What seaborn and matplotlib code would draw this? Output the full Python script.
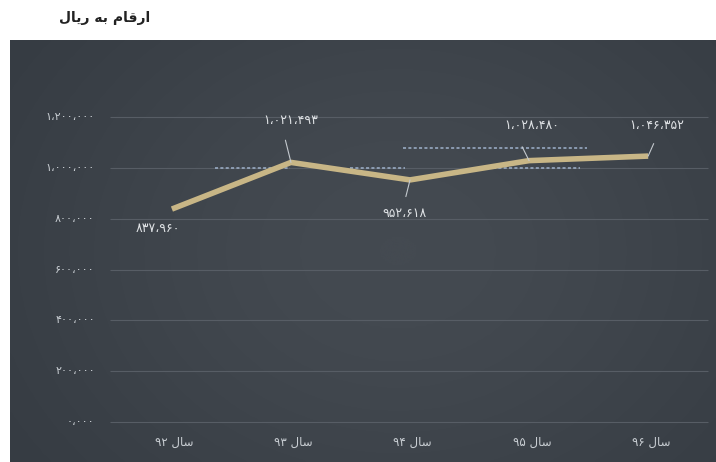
import numpy as np
import pandas as pd
import matplotlib
matplotlib.use("Agg")
import matplotlib.pyplot as plt
import seaborn as sns

# ---- data ----
years = ["سال ۹۲", "سال ۹۳", "سال ۹۴", "سال ۹۵", "سال ۹۶"]
values = [837960, 1021493, 952618, 1028480, 1046352]
y_ticks = [0, 200000, 400000, 600000, 800000, 1000000, 1200000]
y_tick_labels = ["۰،۰۰۰", "۲۰۰،۰۰۰", "۴۰۰،۰۰۰", "۶۰۰،۰۰۰", "۸۰۰،۰۰۰",
                 "۱،۰۰۰،۰۰۰", "۱،۲۰۰،۰۰۰"]
title = "ارقام به ریال"

# ---- minimal Persian shaping (matplotlib has no bidi / joining support) ----
# letter: (isolated, final, initial, medial); None for non-left-joining letters
FORMS = {
    "ا": ("\uFE8D", "\uFE8E", None, None),
    "ر": ("\uFEAD", "\uFEAE", None, None),
    "ق": ("\uFED5", "\uFED6", "\uFED7", "\uFED8"),
    "م": ("\uFEE1", "\uFEE2", "\uFEE3", "\uFEE4"),
    "ب": ("\uFE8F", "\uFE90", "\uFE91", "\uFE92"),
    "ه": ("\uFEE9", "\uFEEA", "\uFEEB", "\uFEEC"),
    "ی": ("\uFEEF", "\uFEF0", "\uFEF3", "\uFEF4"),
    "ل": ("\uFEDD", "\uFEDE", "\uFEDF", "\uFEE0"),
    "س": ("\uFEB1", "\uFEB2", "\uFEB3", "\uFEB4"),
}


def joins_left(ch):
    return ch in FORMS and FORMS[ch][2] is not None


def shape_word(word):
    out = []
    for i, ch in enumerate(word):
        if ch not in FORMS:
            out.append(ch)
            continue
        prev_joins = i > 0 and joins_left(word[i - 1])
        next_exists = i + 1 < len(word) and word[i + 1] in FORMS
        can_left = joins_left(ch) and next_exists
        iso, fin, ini, med = FORMS[ch]
        if prev_joins and can_left:
            out.append(med)
        elif prev_joins:
            out.append(fin)
        elif can_left:
            out.append(ini)
        else:
            out.append(iso)
    return "".join(out)


def rtl(text):
    words = []
    for w in text.split(" "):
        if any(c in FORMS for c in w):
            words.append(shape_word(w)[::-1])
        else:
            words.append(w)
    return " ".join(words[::-1])


FA_DIGITS = str.maketrans("0123456789", "۰۱۲۳۴۵۶۷۸۹")


def fa_number(v):
    return f"{v:,}".replace(",", "،").translate(FA_DIGITS)


# ---- figure ----
sns.set_theme(style="dark")
plt.rcParams["font.family"] = ["DejaVu Sans"]

W, H = 716, 462
fig = plt.figure(figsize=(W / 100, H / 100), dpi=100)
fig.patch.set_facecolor("white")

ax = fig.add_axes([10 / W, 0, 706 / W, 422 / H])
ax.set_facecolor("#3e444b")

# subtle vignette on the dark panel
gy, gx = np.mgrid[0:1:200j, 0:1:300j]
shade = np.exp(-(((gx - 0.55) / 0.6) ** 2 + ((gy - 0.5) / 0.8) ** 2))
cmap = matplotlib.colors.LinearSegmentedColormap.from_list("panel", ["#363c43", "#444a51"])
ax.imshow(shade, cmap=cmap, extent=(0, 1, 0, 1), transform=ax.transAxes,
          aspect="auto", zorder=0, interpolation="bicubic")

df = pd.DataFrame({"year": years, "value": values})
sns.lineplot(data=df, x="year", y="value", ax=ax, color="#c8b686",
             linewidth=4, solid_capstyle="butt", zorder=4, sort=False)

# axis limits so that the data area sits inside the dark panel
ax.set_xlim(-1.36, 4.57)
ax.set_ylim(-157000, 1503000)

# horizontal grid lines over the data area only
ax.hlines(y_ticks, -0.52, 4.5, color="#575d65", linewidth=0.8, zorder=1)

# light dotted guide segments around the 1,000,000 level
ax.hlines([1000000, 1000000, 1000000], [0.36, 1.5, 2.7], [0.99, 1.96, 3.43],
          color="#9fb2cc", linewidth=1.1, linestyles=(0, (2, 1.5)), zorder=2)
ax.hlines([1080000], [1.94], [3.49],
          color="#9fb2cc", linewidth=1.1, linestyles=(0, (2, 1.5)), zorder=2)

# y tick labels drawn inside the panel
for t, lab in zip(y_ticks, y_tick_labels):
    ax.annotate(lab, xy=(-0.52, t), xytext=(-11, 0), textcoords="offset points",
                ha="right", va="center", fontsize=8, color="#c9ced3")

# category labels
for i, yr in enumerate(years):
    ax.annotate(rtl(yr), xy=(i, -157000), xytext=(2, 14), textcoords="offset points",
                ha="center", va="center", fontsize=8.5, color="#c9ced3")

# value labels with slanted leader lines
label_offsets = [(-10, -14), (0, 30), (-4, -24), (2, 25), (6, 22)]
leader_ends = [None, (-4, 16), (-3, -12), (-5, 10), (4, 9)]
for i, (v, (dx, dy), lead) in enumerate(zip(values, label_offsets, leader_ends)):
    if lead is not None:
        ax.annotate("", xy=(i, v), xytext=lead, textcoords="offset points",
                    arrowprops=dict(arrowstyle="-", color="#c4c9ce", lw=0.8,
                                    shrinkA=0, shrinkB=0), zorder=5)
    ax.annotate(fa_number(v), xy=(i, v), xytext=(dx, dy), textcoords="offset points",
                ha="center", va="center", fontsize=9, color="#dfe2e5", zorder=6)

ax.set_xticks([])
ax.set_yticks([])
ax.set_xlabel("")
ax.set_ylabel("")
for s in ax.spines.values():
    s.set_visible(False)
ax.grid(False)

fig.text(105 / W, 1 - 18 / H, rtl(title), ha="center", va="center",
         fontsize=10, fontweight="bold", color="#222222")

fig.savefig("out.png", dpi=100, facecolor=fig.get_facecolor())
